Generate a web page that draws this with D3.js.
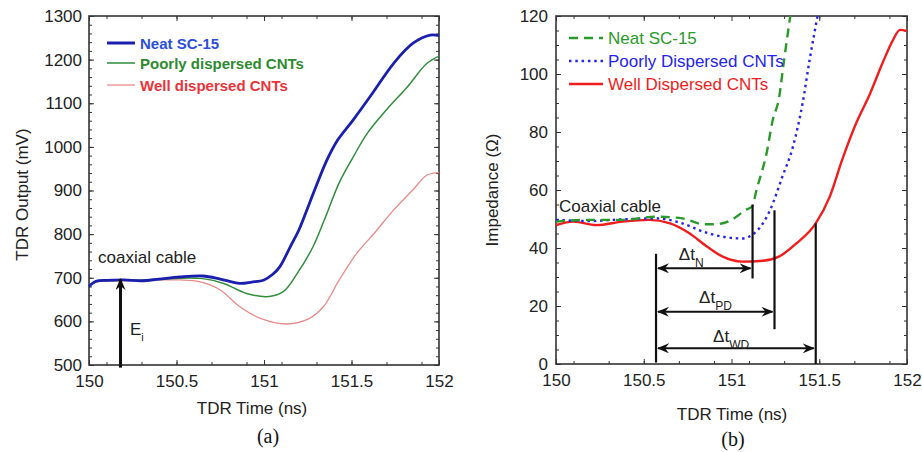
<!DOCTYPE html>
<html>
<head>
<meta charset="utf-8">
<script src="https://cdn.jsdelivr.net/npm/d3@7"></script>
<style>
  body { margin: 0; background: #fff; }
  svg { display: block; font-family: Arial, "Liberation Sans", sans-serif; }
</style>
</head>
<body>
<div id="chart"></div>
<script>
// ---- panel (a): TDR output ----
const neatA_t   = [150, 150.04, 150.1, 150.2, 150.3, 150.4, 150.52, 150.65, 150.75, 150.86, 150.93, 151.0, 151.05, 151.09, 151.15, 151.2, 151.24, 151.3, 151.36, 151.42, 151.51, 151.62, 151.74, 151.85, 151.95, 152];
const neatA     = [680, 692, 694, 695, 693, 697, 702, 704, 697, 687, 690, 695, 708, 725, 771, 810, 850, 912, 970, 1015, 1062, 1123, 1191, 1237, 1256, 1255];
const poorlyA_t = [150, 150.04, 150.2, 150.4, 150.52, 150.65, 150.77, 150.9, 151.03, 151.11, 151.19, 151.28, 151.36, 151.43, 151.51, 151.59, 151.7, 151.82, 151.93, 152];
const poorlyA   = [682, 691, 694, 696, 699, 698, 687, 664, 657, 668, 710, 771, 848, 918, 977, 1031, 1085, 1138, 1191, 1208];
const wellA_t   = [150, 150.04, 150.2, 150.4, 150.52, 150.63, 150.75, 150.86, 150.98, 151.13, 151.26, 151.34, 151.43, 151.53, 151.63, 151.74, 151.85, 151.93, 152];
const wellA     = [682, 690, 693, 695, 695, 691, 672, 634, 607, 594, 607, 634, 695, 756, 802, 855, 901, 935, 941];
const legendA   = ["Neat SC-15", "Poorly dispersed CNTs", "Well dispersed CNTs"];
const yTicksA   = [500, 600, 700, 800, 900, 1000, 1100, 1200, 1300];

// ---- panel (b): impedance ----
const neatB_t   = [150, 150.19, 150.38, 150.57, 150.72, 150.84, 150.91, 151.0, 151.08, 151.12, 151.14, 151.2, 151.235, 151.27, 151.3, 151.335];
const neatB     = [49.1, 49.7, 49.7, 50.8, 50.2, 48.2, 48.2, 49.7, 53.1, 54.5, 59.4, 72.7, 84.1, 91.5, 105, 120];
const poorlyB_t = [150, 150.19, 150.38, 150.57, 150.72, 150.84, 150.95, 151.06, 151.14, 151.22, 151.29, 151.35, 151.405, 151.445, 151.49];
const poorlyB   = [49.7, 49.3, 49.9, 50.2, 48.5, 45.6, 43.9, 43.3, 45.6, 53.1, 64.6, 74.9, 89.9, 104.8, 120];
const wellB_t   = [150, 150.1, 150.23, 150.38, 150.53, 150.65, 150.76, 150.86, 150.95, 151.06, 151.18, 151.27, 151.37, 151.48, 151.56, 151.63, 151.71, 151.79, 151.86, 151.92, 151.96, 152];
const wellB     = [47.9, 49.1, 47.9, 49.1, 49.7, 48.5, 45.1, 40.5, 37.0, 35.3, 35.6, 37.0, 41.6, 48.5, 57.7, 70.3, 83.0, 93.3, 103.7, 111.7, 115.2, 114.8];
const legendB   = ["Neat SC-15", "Poorly Dispersed CNTs", "Well Dispersed CNTs"];
const yTicksB   = [0, 20, 40, 60, 80, 100, 120];

// delay markers in (b): vertical bars and the double arrows
const markerT    = [150.57, 151.12, 151.245, 151.48];
const markerLow  = [0.5, 29.5, 12, 0];
const markerHigh = [38, 55, 53, 48.5];
const arrowEnd   = [151.12, 151.245, 151.48];
const arrowLevel = [33, 18, 5.4];
const arrowSub   = ["N", "PD", "WD"];
const labelT     = [150.70, 150.815, 150.895];
const labelLevel = [36, 21, 7.6];

const xTicks = [150, 150.5, 151, 151.5, 152];

const svg = d3.select("#chart").append("svg")
    .attr("width", 922)
    .attr("height", 452);

svg.append("defs").append("marker")
    .attr("id", "arr")
    .attr("viewBox", "0 0 12 10")
    .attr("refX", 11).attr("refY", 5)
    .attr("markerWidth", 12).attr("markerHeight", 10)
    .attr("markerUnits", "userSpaceOnUse")
    .attr("orient", "auto-start-reverse")
    .append("path")
    .attr("d", "M0,0 L12,5 L0,10 L4,5 Z")
    .attr("fill", "#111");

function drawFrame(g, x, y, w, h, yMajor, yMinor, padLeft) {
    const fix = sel => {
        sel.select(".domain").remove();
        sel.selectAll("line").attr("stroke", "#333");
        sel.attr("font-family", null).attr("font-size", 17);
        sel.selectAll("text").attr("fill", "#222");
    };
    const xMinor = d3.range(150.1, 152, 0.2);

    // minor ticks on all four sides
    g.append("g").attr("transform", `translate(0,${h})`)
        .call(d3.axisBottom(x).tickValues(xMinor).tickSize(-3).tickFormat("")).call(fix);
    g.append("g")
        .call(d3.axisTop(x).tickValues(xMinor).tickSize(-3).tickFormat("")).call(fix);
    g.append("g")
        .call(d3.axisLeft(y).tickValues(yMinor).tickSize(-3).tickFormat("")).call(fix);
    g.append("g").attr("transform", `translate(${w},0)`)
        .call(d3.axisRight(y).tickValues(yMinor).tickSize(-3).tickFormat("")).call(fix);

    // major ticks with labels
    g.append("g").attr("transform", `translate(0,${h})`)
        .call(d3.axisBottom(x).tickValues(xTicks).tickSize(-5).tickPadding(10).tickFormat(d => String(d))).call(fix);
    g.append("g")
        .call(d3.axisTop(x).tickValues(xTicks).tickSize(-5).tickFormat("")).call(fix);
    g.append("g")
        .call(d3.axisLeft(y).tickValues(yMajor).tickSize(-5).tickPadding(padLeft).tickFormat(d => String(d))).call(fix);
    g.append("g").attr("transform", `translate(${w},0)`)
        .call(d3.axisRight(y).tickValues(yMajor).tickSize(-5).tickFormat("")).call(fix);

    g.append("rect")
        .attr("width", w).attr("height", h)
        .attr("fill", "none")
        .attr("stroke", "#333")
        .attr("stroke-width", 1.6);
}

function pairs(ts, vs) { return ts.map((t, i) => [t, vs[i]]); }

/**
 * Panel (a)
 */
{
    const left = 89, top = 16, w = 350, h = 349;
    const g = svg.append("g").attr("transform", `translate(${left},${top})`);
    const x = d3.scaleLinear().domain([150, 152]).range([0, w]);
    const y = d3.scaleLinear().domain([500, 1300]).range([h, 0]);
    const line = d3.line().x(d => x(d[0])).y(d => y(d[1])).curve(d3.curveCatmullRom.alpha(0.5));

    drawFrame(g, x, y, w, h, yTicksA, d3.range(500, 1300, 20), 7);

    const series = [
        { d: pairs(wellA_t, wellA), c: "#e98a8a", wd: 1.3 },
        { d: pairs(poorlyA_t, poorlyA), c: "#2f8d3c", wd: 1.5 },
        { d: pairs(neatA_t, neatA), c: "#1a1fae", wd: 2.8 }
    ];
    g.selectAll(".curve").data(series).enter().append("path")
        .attr("d", s => line(s.d))
        .attr("fill", "none")
        .attr("stroke", s => s.c)
        .attr("stroke-width", s => s.wd);

    // legend
    const legColors = ["#1a1fae", "#2f8d3c", "#e98a8a"];
    const legText = ["#2b4fd8", "#2e8a2e", "#e8343a"];
    const legW = [3, 1.5, 1.3];
    const legY = [27, 47, 69];
    legendA.forEach((name, i) => {
        g.append("line")
            .attr("x1", 18).attr("x2", 46).attr("y1", legY[i]).attr("y2", legY[i])
            .attr("stroke", legColors[i]).attr("stroke-width", legW[i]);
        g.append("text")
            .attr("x", 51).attr("y", legY[i] + 5.5)
            .attr("font-size", 15).attr("font-weight", "bold")
            .attr("fill", legText[i])
            .text(name);
    });

    g.append("text").attr("x", 9).attr("y", 247)
        .attr("font-size", 17).attr("fill", "#222").text("coaxial cable");

    // incident arrow E_i
    g.append("line")
        .attr("x1", x(150.18)).attr("x2", x(150.18))
        .attr("y1", y(494)).attr("y2", y(697))
        .attr("stroke", "#111").attr("stroke-width", 3)
        .attr("marker-end", "url(#arr)");
    const e = g.append("text").attr("x", 41).attr("y", 319)
        .attr("font-size", 17).attr("fill", "#222");
    e.append("tspan").text("E");
    e.append("tspan").attr("dy", 6).attr("font-size", 11).text("i");

    svg.append("text")
        .attr("x", left + w / 2 - 12).attr("y", 414)
        .attr("text-anchor", "middle").attr("font-size", 17).attr("fill", "#222")
        .text("TDR Time (ns)");
    svg.append("text")
        .attr("transform", `translate(22,${top + h / 2 + 4}) rotate(-90)`)
        .attr("text-anchor", "middle").attr("dominant-baseline", "central")
        .attr("font-size", 17).attr("fill", "#222")
        .text("TDR Output (mV)");
    svg.append("text")
        .attr("x", 268).attr("y", 443)
        .attr("text-anchor", "middle")
        .attr("font-family", "'Times New Roman', 'Liberation Serif', serif")
        .attr("font-size", 20).attr("fill", "#111")
        .text("(a)");
}

/**
 * Panel (b)
 */
{
    const left = 556, top = 16, w = 351, h = 348;
    const g = svg.append("g").attr("transform", `translate(${left},${top})`);
    const x = d3.scaleLinear().domain([150, 152]).range([0, w]);
    const y = d3.scaleLinear().domain([0, 120]).range([h, 0]);
    const line = d3.line().x(d => x(d[0])).y(d => y(d[1])).curve(d3.curveMonotoneX);

    svg.select("defs").append("clipPath").attr("id", "clipB")
        .append("rect").attr("width", w).attr("height", h);

    drawFrame(g, x, y, w, h, yTicksB, d3.range(0, 120, 5), 8);

    const green = "#2a9a2a", blue = "#2424ee", red = "#ee1e1e";
    const series = [
        { d: pairs(wellB_t, wellB), c: red, dash: null },
        { d: pairs(poorlyB_t, poorlyB), c: blue, dash: "2.5,3.8" },
        { d: pairs(neatB_t, neatB), c: green, dash: "9,6" }
    ];
    const curves = g.append("g").attr("clip-path", "url(#clipB)");
    curves.selectAll("path").data(series).enter().append("path")
        .attr("d", s => line(s.d))
        .attr("fill", "none")
        .attr("stroke", s => s.c)
        .attr("stroke-width", 2.4)
        .attr("stroke-dasharray", s => s.dash);

    // legend
    const legC = [green, blue, red];
    const legD = ["9,6", "2.5,3.8", null];
    const legY = [22, 45, 68];
    legendB.forEach((name, i) => {
        g.append("line")
            .attr("x1", 13).attr("x2", 47).attr("y1", legY[i]).attr("y2", legY[i])
            .attr("stroke", legC[i]).attr("stroke-width", 2.4)
            .attr("stroke-dasharray", legD[i]);
        g.append("text")
            .attr("x", 52).attr("y", legY[i] + 6)
            .attr("font-size", 17).attr("fill", legC[i])
            .text(name);
    });

    g.append("text").attr("x", 3).attr("y", 196)
        .attr("font-size", 17).attr("fill", "#222").text("Coaxial cable");

    // delay markers
    markerT.forEach((t, i) => {
        g.append("line")
            .attr("x1", x(t)).attr("x2", x(t))
            .attr("y1", y(markerLow[i])).attr("y2", y(markerHigh[i]))
            .attr("stroke", "#111").attr("stroke-width", 2.2);
    });
    arrowEnd.forEach((t, i) => {
        g.append("line")
            .attr("x1", x(markerT[0]) + 2).attr("x2", x(t) - 2)
            .attr("y1", y(arrowLevel[i])).attr("y2", y(arrowLevel[i]))
            .attr("stroke", "#111").attr("stroke-width", 2)
            .attr("marker-start", "url(#arr)")
            .attr("marker-end", "url(#arr)");
        const lab = g.append("text")
            .attr("x", x(labelT[i])).attr("y", y(labelLevel[i]))
            .attr("font-size", 17).attr("fill", "#222");
        lab.append("tspan").text("\u0394t");
        lab.append("tspan").attr("dy", 7).attr("font-size", 12).text(arrowSub[i]);
    });

    svg.append("text")
        .attr("x", 732).attr("y", 420)
        .attr("text-anchor", "middle").attr("font-size", 17).attr("fill", "#222")
        .text("TDR Time (ns)");
    svg.append("text")
        .attr("transform", `translate(492,${top + h / 2}) rotate(-90)`)
        .attr("text-anchor", "middle").attr("dominant-baseline", "central")
        .attr("font-size", 17).attr("fill", "#222")
        .text("Impedance (\u03a9)");
    svg.append("text")
        .attr("x", 733).attr("y", 446)
        .attr("text-anchor", "middle")
        .attr("font-family", "'Times New Roman', 'Liberation Serif', serif")
        .attr("font-size", 20).attr("fill", "#111")
        .text("(b)");
}
</script>
</body>
</html>
